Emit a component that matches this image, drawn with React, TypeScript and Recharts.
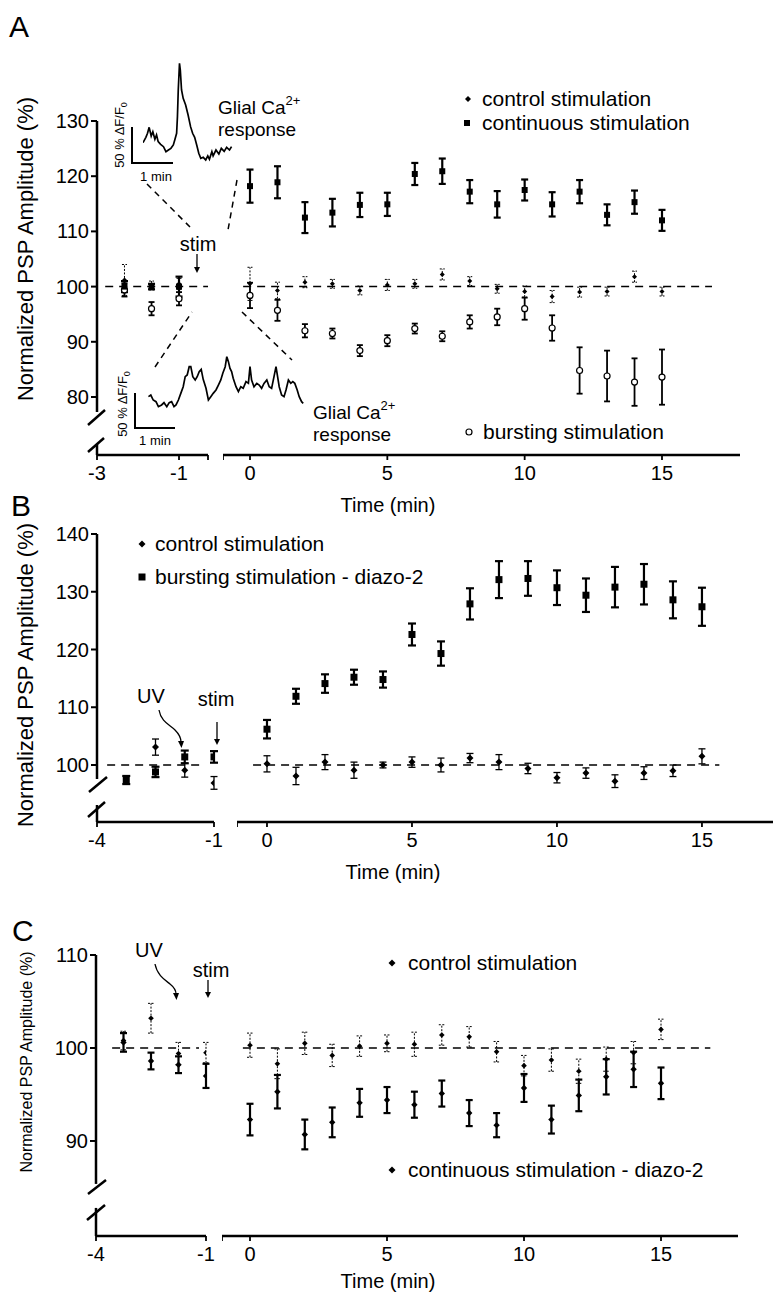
import {
  ScatterChart,
  Scatter,
  XAxis,
  YAxis,
  ErrorBar,
  ReferenceLine,
  LineChart,
  Line,
} from 'recharts'

const FONT = '"Liberation Sans", Arial, Helvetica, sans-serif'

// ---- shared time points (min) ----
const POST_T = [0, 1, 2, 3, 4, 5, 6, 7, 8, 9, 10, 11, 12, 13, 14, 15]
const POST_TICKS = [0, 5, 10, 15]

// ---- panel A ----
const A_Y_TICKS = [80, 90, 100, 110, 120, 130]
const A_PRE_T = [-2.33, -1.67, -1]
const A_PRE_TICKS = [-3, -1]
const A_CTRL_PRE = [101.2, 100.2, 100.5]
const A_CTRL_PRE_SEM = [2.8, 0.8, 1.0]
const A_CONT_PRE = [100, 100, 100]
const A_CONT_PRE_SEM = [1.0, 0.5, 1.8]
const A_BURST_PRE = [99.4, 96, 97.8]
const A_BURST_PRE_SEM = [1.2, 1.2, 1.2]
const A_CTRL = [100.5, 99.3, 100.8, 100.5, 99.3, 100.3, 100.5, 102.2, 101, 99.6, 99.1, 98.2, 99, 99.1, 101.8, 99.1]
const A_CTRL_SEM = [3, 1.5, 1, 0.8, 0.8, 1, 0.8, 1, 0.8, 0.8, 1, 1.1, 0.9, 0.8, 1, 0.8]
const A_CONT = [118.2, 118.9, 112.5, 113.4, 114.8, 114.9, 120.4, 120.9, 117.2, 114.9, 117.5, 114.9, 117.2, 113, 115.3, 112]
const A_CONT_SEM = [3, 2.9, 2.8, 2.5, 2.2, 2.1, 2, 2.3, 2.1, 2.4, 1.9, 2.2, 2.1, 1.9, 2.1, 1.9]
const A_BURST = [98.4, 95.7, 92, 91.5, 88.4, 90.2, 92.4, 91, 93.6, 94.5, 96, 92.5, 84.8, 83.8, 82.7, 83.6]
const A_BURST_SEM = [2.3, 1.9, 1.2, 0.9, 1, 1, 0.9, 0.9, 1.2, 1.5, 2, 2.3, 4.2, 4.6, 4.3, 5]

// glial Ca2+ traces (min, % dF/F0)
const TOP_TRACE_T = [0.0, 0.07, 0.11, 0.15, 0.2, 0.24, 0.29, 0.33, 0.37, 0.43, 0.5, 0.56, 0.62, 0.68, 0.74, 0.78, 0.82, 0.84, 0.86, 0.89, 0.91, 0.94, 0.98, 1.04, 1.1, 1.16, 1.21, 1.26, 1.31, 1.36, 1.41, 1.47, 1.53, 1.58, 1.62, 1.68, 1.71, 1.78, 1.85, 1.91, 1.98, 2.04, 2.11, 2.16]
const TOP_TRACE_DF = [27.6, 35.2, 41, 49.5, 37.1, 43.3, 32.4, 38.6, 29, 25.2, 21.9, 14.8, 17.1, 19.5, 24.3, 32.4, 41, 64.8, 102.9, 141, 131.4, 102.9, 91, 81.4, 67.1, 50.5, 41, 35.2, 24.3, 12.4, 5.2, 6.7, 2.9, 8.6, 3.8, 14.8, 8.6, 17.1, 11.4, 19.5, 15.2, 21, 17.1, 21.9]
const BOT_TRACE_T = [0.01, 0.07, 0.13, 0.2, 0.26, 0.34, 0.4, 0.47, 0.53, 0.59, 0.65, 0.7, 0.76, 0.82, 0.88, 0.93, 0.98, 1.03, 1.07, 1.12, 1.18, 1.23, 1.28, 1.33, 1.38, 1.45, 1.51, 1.57, 1.63, 1.7, 1.76, 1.82, 1.87, 1.93, 1.97, 2.01, 2.05, 2.09, 2.13, 2.2, 2.26, 2.32, 2.38, 2.45, 2.51, 2.55, 2.59, 2.65, 2.72, 2.78, 2.84, 2.9, 2.97, 3.03, 3.09, 3.15, 3.2, 3.24, 3.28, 3.34, 3.4, 3.45, 3.51, 3.57, 3.62, 3.67, 3.73, 3.78, 3.84, 3.88]
const BOT_TRACE_DF = [44.8, 47.1, 40, 37.6, 30.5, 32.9, 36.2, 30.5, 36.2, 37.6, 30.5, 32.9, 40, 49.5, 59, 73.3, 75.7, 87.6, 87.6, 73.3, 68.6, 73.3, 80.5, 83.8, 69.5, 56.7, 40, 44.8, 49.5, 54.3, 61.4, 68.6, 78.1, 87.6, 101.9, 94.8, 85.2, 80.5, 71, 59, 51.9, 59, 56.7, 66.2, 63.8, 87.6, 68.6, 59, 63.8, 61.4, 56.7, 63.8, 68.6, 59, 56.7, 73.3, 87.6, 73.3, 59, 47.1, 44.8, 54.3, 68.6, 63.8, 66.2, 63.8, 54.3, 44.8, 37.6, 35.2]

// ---- panel B ----
const B_Y_TICKS = [100, 110, 120, 130, 140]
const BC_PRE_TICKS = [-4, -1]
const B_CTRL_PRE_T = [-2.5, -1.75, -1]
const B_CTRL_PRE = [103.1, 99.1, 96.9]
const B_CTRL_PRE_SEM = [1.4, 1.2, 1.1]
const B_BURST_PRE_T = [-3.25, -2.5, -1.75, -1]
const B_BURST_PRE = [97.4, 98.8, 101.4, 101.4]
const B_BURST_PRE_SEM = [0.7, 0.9, 1.1, 1.0]
const B_CTRL = [100.2, 98.1, 100.5, 99.1, 100, 100.5, 100, 101.2, 100.5, 99.4, 97.8, 98.6, 97.2, 98.6, 99, 101.5]
const B_CTRL_SEM = [1.4, 1.5, 1.3, 1.4, 0.5, 0.9, 1.2, 0.8, 1.3, 0.9, 0.9, 0.9, 1.1, 1.1, 1, 1.3]
const B_BURST = [106.2, 111.9, 114.1, 115.2, 114.8, 122.6, 119.3, 127.9, 132.1, 132.3, 130.7, 129.4, 130.8, 131.3, 128.6, 127.4]
const B_BURST_SEM = [1.6, 1.3, 1.6, 1.3, 1.4, 1.9, 2.1, 2.7, 3.2, 3, 3, 2.9, 3.5, 3.5, 3.2, 3.3]

// ---- panel C ----
const C_Y_TICKS = [90, 100, 110]
const C_PRE_T = [-3.25, -2.5, -1.75, -1]
const C_CTRL_PRE = [100.8, 103.2, 99.4, 99.5]
const C_CTRL_PRE_SEM = [1, 1.6, 1.2, 1.1]
const C_CONT_PRE = [100.6, 98.6, 98.2, 97]
const C_CONT_PRE_SEM = [1, 0.9, 0.9, 1.3]
const C_CTRL = [100.3, 98.3, 100.5, 99.2, 100.2, 100.5, 100.4, 101.4, 101.2, 99.6, 98.1, 98.7, 97.5, 98.8, 99.5, 102]
const C_CTRL_SEM = [1.3, 1.6, 1.2, 1.2, 1.1, 0.9, 1.3, 1.1, 1.1, 1.1, 1.1, 1.2, 1.3, 1.3, 1.2, 1.1]
const C_CONT = [92.3, 95.3, 90.7, 92, 94.1, 94.4, 93.9, 95.1, 93, 91.7, 95.7, 92.3, 94.9, 96.9, 97.7, 96.2]
const C_CONT_SEM = [1.7, 1.8, 1.6, 1.6, 1.5, 1.4, 1.4, 1.4, 1.4, 1.3, 1.5, 1.5, 1.7, 1.9, 1.9, 1.7]

type Pt = { t: number; v: number; e: number }
const zip = (t: number[], v: number[], e: number[]): Pt[] =>
  t.map((x, i) => ({ t: x, v: v[i], e: e[i] }))

const diamond = (r: number) => (p: any) => (
  <path
    d={`M${p.cx},${p.cy - r}L${p.cx + r},${p.cy}L${p.cx},${p.cy + r}L${p.cx - r},${p.cy}Z`}
    fill="#000"
  />
)
const square = (s: number) => (p: any) => (
  <rect x={p.cx - s / 2} y={p.cy - s / 2} width={s} height={s} fill="#000" />
)
const ring = (r: number) => (p: any) => (
  <circle cx={p.cx} cy={p.cy} r={r} fill="#fff" stroke="#000" strokeWidth={1.2} />
)

interface SegDef {
  left: number
  width: number
  domain: [number, number]
  ticks: number[]
  labels: number[]
  dash: [number, number]
}
interface SeriesDef {
  name: string
  pre: Pt[]
  post: Pt[]
  shape: any
  barW: number
  cap: number
  dash?: string
}
interface PanelDef {
  top: number
  height: number
  yDomain: [number, number]
  yTicks: number[]
  axisBreak: number
  axisResume: number
  pre: SegDef
  post: SegDef
  series: SeriesDef[]
}

const PANEL_A: PanelDef = {
  top: 121,
  height: 334,
  yDomain: [69.49, 130],
  yTicks: A_Y_TICKS,
  axisBreak: 77.3,
  axisResume: 71.5,
  pre: { left: 97, width: 111, domain: [-3, -0.293], ticks: [-3, -1, -0.293], labels: A_PRE_TICKS, dash: [-2.8, -0.293] },
  post: { left: 223, width: 517, domain: [-0.983, 17.84], ticks: [-0.983, ...POST_TICKS], labels: POST_TICKS, dash: [-0.25, 16.82] },
  series: [
    { name: 'burst', pre: zip(A_PRE_T, A_BURST_PRE, A_BURST_PRE_SEM), post: zip(POST_T, A_BURST, A_BURST_SEM), shape: ring(3), barW: 1.8, cap: 3 },
    { name: 'cont', pre: zip(A_PRE_T, A_CONT_PRE, A_CONT_PRE_SEM), post: zip(POST_T, A_CONT, A_CONT_SEM), shape: square(6), barW: 2.2, cap: 3.5 },
    { name: 'ctrl', pre: zip(A_PRE_T, A_CTRL_PRE, A_CTRL_PRE_SEM), post: zip(POST_T, A_CTRL, A_CTRL_SEM), shape: diamond(2.5), barW: 1, cap: 2.5, dash: '2 1.5' },
  ],
}

const PANEL_B: PanelDef = {
  top: 534,
  height: 288,
  yDomain: [90.13, 140],
  yTicks: B_Y_TICKS,
  axisBreak: 97.58,
  axisResume: 93.07,
  pre: { left: 97, width: 117, domain: [-4, -1], ticks: BC_PRE_TICKS, labels: BC_PRE_TICKS, dash: [-3.74, -1.31] },
  post: { left: 237, width: 536, domain: [-1.034, 17.45], ticks: [-1.034, ...POST_TICKS], labels: POST_TICKS, dash: [-0.48, 15.6] },
  series: [
    { name: 'burst', pre: zip(B_BURST_PRE_T, B_BURST_PRE, B_BURST_PRE_SEM), post: zip(POST_T, B_BURST, B_BURST_SEM), shape: square(7), barW: 2.2, cap: 4 },
    { name: 'ctrl', pre: zip(B_CTRL_PRE_T, B_CTRL_PRE, B_CTRL_PRE_SEM), post: zip(POST_T, B_CTRL, B_CTRL_SEM), shape: diamond(3.5), barW: 1.3, cap: 3.5 },
  ],
}

const PANEL_C: PanelDef = {
  top: 955,
  height: 281,
  yDomain: [79.78, 110],
  yTicks: C_Y_TICKS,
  axisBreak: 85.38,
  axisResume: 82.8,
  pre: { left: 96, width: 110, domain: [-4, -1], ticks: BC_PRE_TICKS, labels: BC_PRE_TICKS, dash: [-3.56, -1.19] },
  post: { left: 222, width: 516, domain: [-1.022, 17.81], ticks: [-1.022, ...POST_TICKS], labels: POST_TICKS, dash: [-0.26, 16.8] },
  series: [
    { name: 'cont', pre: zip(C_PRE_T, C_CONT_PRE, C_CONT_PRE_SEM), post: zip(POST_T, C_CONT, C_CONT_SEM), shape: diamond(3.2), barW: 2.2, cap: 3.5 },
    { name: 'ctrl', pre: zip(C_PRE_T, C_CTRL_PRE, C_CTRL_PRE_SEM), post: zip(POST_T, C_CTRL, C_CTRL_SEM), shape: diamond(2.8), barW: 1, cap: 3, dash: '2 1.5' },
  ],
}

const tickStyle = { fontSize: 20, fill: '#000', fontFamily: FONT }

function Segment({ p, seg, isPre }: { p: PanelDef; seg: SegDef; isPre: boolean }) {
  const yw = isPre ? 60 : 0
  const x0 = seg.domain[0]
  return (
    <div style={{ position: 'absolute', left: seg.left - yw, top: p.top - 10 }}>
      <ScatterChart
        width={yw + seg.width + 12}
        height={p.height + 50}
        margin={{ top: 10, right: 12, bottom: 0, left: 0 }}
      >
        <XAxis
          type="number"
          dataKey="t"
          domain={seg.domain}
          ticks={seg.ticks}
          interval={0}
          allowDataOverflow
          height={40}
          tickSize={5}
          tickMargin={6}
          axisLine={{ stroke: '#000', strokeWidth: 2.5 }}
          tickLine={{ stroke: '#000', strokeWidth: 1.8 }}
          tick={tickStyle}
          tickFormatter={(v: number) => (seg.labels.includes(v) ? String(v) : '')}
        />
        <YAxis
          type="number"
          dataKey="v"
          domain={p.yDomain}
          allowDataOverflow
          hide={!isPre}
          width={yw}
          ticks={p.yTicks}
          interval={0}
          axisLine={false}
          tickSize={6}
          tickMargin={2}
          tickLine={{ stroke: '#000', strokeWidth: 2 }}
          tick={tickStyle}
        />
        <ReferenceLine
          segment={[{ x: seg.dash[0], y: 100 }, { x: seg.dash[1], y: 100 }]}
          stroke="#000"
          strokeWidth={1.5}
          strokeDasharray="8 6"
          ifOverflow="visible"
        />
        {isPre && (
          <ReferenceLine
            segment={[{ x: x0, y: p.yDomain[1] }, { x: x0, y: p.axisBreak }]}
            stroke="#000"
            strokeWidth={2.5}
            ifOverflow="visible"
          />
        )}
        {isPre && (
          <ReferenceLine
            segment={[{ x: x0, y: p.axisResume }, { x: x0, y: p.yDomain[0] }]}
            stroke="#000"
            strokeWidth={2.5}
            ifOverflow="visible"
          />
        )}
        {p.series.map((s) => (
          <Scatter
            key={s.name}
            data={isPre ? s.pre : s.post}
            shape={s.shape}
            isAnimationActive={false}
          >
            <ErrorBar
              dataKey="e"
              direction="y"
              width={s.cap}
              stroke="#000"
              strokeWidth={s.barW}
              strokeDasharray={s.dash}
            />
          </Scatter>
        ))}
      </ScatterChart>
    </div>
  )
}

function Panel({ p }: { p: PanelDef }) {
  return (
    <>
      <Segment p={p} seg={p.pre} isPre />
      <Segment p={p} seg={p.post} isPre={false} />
    </>
  )
}

function Trace({ t, df, left, top, width, height, xMax, yMax }: {
  t: number[]; df: number[]; left: number; top: number; width: number; height: number; xMax: number; yMax: number
}) {
  const data = t.map((x, i) => ({ t: x, df: df[i] }))
  return (
    <div style={{ position: 'absolute', left, top }}>
      <LineChart width={width} height={height} data={data} margin={{ top: 0, right: 0, bottom: 0, left: 0 }}>
        <XAxis type="number" dataKey="t" domain={[0, xMax]} hide />
        <YAxis type="number" domain={[0, yMax]} hide />
        <Line dataKey="df" stroke="#000" strokeWidth={1.7} dot={false} isAnimationActive={false} />
      </LineChart>
    </div>
  )
}

function Arrow({ x, y1, y2 }: { x: number; y1: number; y2: number }) {
  return (
    <g>
      <line x1={x} y1={y1} x2={x} y2={y2 - 4} stroke="#000" strokeWidth={1.3} />
      <polygon points={`${x - 3},${y2 - 6} ${x + 3},${y2 - 6} ${x},${y2}`} fill="#000" />
    </g>
  )
}

function Annotations() {
  const t = { fontFamily: FONT, fontSize: 20, fill: '#000' }
  const lg = { fontFamily: FONT, fontSize: 21, fill: '#000' }
  const small = { fontFamily: FONT, fontSize: 13, fill: '#000' }
  const dash = { stroke: '#000', strokeWidth: 1.5, strokeDasharray: '6 5' }
  const axis = { stroke: '#000', strokeWidth: 2.5 }
  const yTitle = 'Normalized PSP Amplitude (%)'
  return (
    <svg width={776} height={1292} style={{ position: 'absolute', left: 0, top: 0, pointerEvents: 'none' }}>
      {/* panel letters */}
      <text x={9} y={37} fontFamily={FONT} fontSize={30}>A</text>
      <text x={11} y={516} fontFamily={FONT} fontSize={30}>B</text>
      <text x={12} y={941} fontFamily={FONT} fontSize={30}>C</text>

      {/* axis titles */}
      <text transform="translate(33,249) rotate(-90)" textAnchor="middle" {...t} fontSize={22}>{yTitle}</text>
      <text transform="translate(33,675) rotate(-90)" textAnchor="middle" {...t} fontSize={22}>{yTitle}</text>
      <text transform="translate(32,1062) rotate(-90)" textAnchor="middle" {...t} fontSize={16}>{yTitle}</text>
      <text x={388} y={512} textAnchor="middle" {...t}>Time (min)</text>
      <text x={393} y={879} textAnchor="middle" {...t}>Time (min)</text>
      <text x={388} y={1288} textAnchor="middle" {...t}>Time (min)</text>

      {/* axis breaks */}
      <line x1={105} y1={410} x2={88} y2={425} {...axis} />
      <line x1={104} y1={438} x2={88} y2={452} {...axis} />
      <line x1={107} y1={777} x2={89} y2={792} {...axis} />
      <line x1={105} y1={802} x2={88} y2={817} {...axis} />
      <line x1={106} y1={1180} x2={88} y2={1194} {...axis} />
      <line x1={105} y1={1205} x2={87} y2={1220} {...axis} />

      {/* panel A legends */}
      <path d="M468,96L471,99L468,102L465,99Z" fill="#000" />
      <text x={482} y={106} {...lg}>control stimulation</text>
      <rect x={464} y={120} width={6} height={6} fill="#000" />
      <text x={482} y={130} {...lg}>continuous stimulation</text>
      <circle cx={469} cy={432} r={3} fill="#fff" stroke="#000" strokeWidth={1.2} />
      <text x={483} y={439} {...lg}>bursting stimulation</text>

      {/* panel A insets */}
      <text x={218} y={114} {...t} fontSize={19}>
        Glial Ca<tspan dy={-9} fontSize={13}>2+</tspan>
      </text>
      <text x={218} y={136} {...t} fontSize={19}>response</text>
      <line x1={132} y1={127} x2={132} y2={163} stroke="#000" strokeWidth={2} />
      <line x1={131} y1={163} x2={173} y2={163} stroke="#000" strokeWidth={2} />
      <text transform="translate(124,135) rotate(-90)" textAnchor="middle" {...small}>
        50 % ΔF/F<tspan fontSize={9} dy={3}>0</tspan>
      </text>
      <text x={156} y={181} textAnchor="middle" {...small}>1 min</text>
      <line x1={147} y1={184} x2={190} y2={227} {...dash} />
      <line x1={237} y1={180} x2={228} y2={230} {...dash} />

      <text x={198} y={251} textAnchor="middle" {...t}>stim</text>
      <Arrow x={197} y1={254} y2={273} />

      <line x1={155} y1={367} x2={192} y2={312} {...dash} />
      <line x1={242} y1={312} x2={292} y2={360} {...dash} />
      <line x1={135} y1={393} x2={135} y2={428} stroke="#000" strokeWidth={2} />
      <line x1={134} y1={428} x2={175} y2={428} stroke="#000" strokeWidth={2} />
      <text transform="translate(127,404) rotate(-90)" textAnchor="middle" {...small}>
        50 % ΔF/F<tspan fontSize={9} dy={3}>0</tspan>
      </text>
      <text x={155} y={445} textAnchor="middle" {...small}>1 min</text>
      <text x={313} y={419} {...t} fontSize={19}>
        Glial Ca<tspan dy={-9} fontSize={13}>2+</tspan>
      </text>
      <text x={313} y={441} {...t} fontSize={19}>response</text>

      {/* panel B */}
      <path d="M142,540.5L145.5,544L142,547.5L138.5,544Z" fill="#000" />
      <text x={155} y={551} {...lg}>control stimulation</text>
      <rect x={138.5} y={573.5} width={7} height={7} fill="#000" />
      <text x={155} y={584} {...lg}>bursting stimulation - diazo-2</text>
      <text x={151} y={703} textAnchor="middle" {...t}>UV</text>
      <path d="M159,710 C161,722 170,725 175,730 C180,735 181,739 181,742" fill="none" stroke="#000" strokeWidth={1.3} />
      <polygon points="178,741 184,741 181.5,748" fill="#000" />
      <text x={216} y={706} textAnchor="middle" {...t}>stim</text>
      <Arrow x={217} y1={722} y2={745} />

      {/* panel C */}
      <path d="M392,959.5L395.5,963L392,966.5L388.5,963Z" fill="#000" />
      <text x={408} y={970} {...lg}>control stimulation</text>
      <path d="M392,1166.5L395.5,1170L392,1173.5L388.5,1170Z" fill="#000" />
      <text x={408} y={1177} {...lg}>continuous stimulation - diazo-2</text>
      <text x={149} y={957} textAnchor="middle" {...t}>UV</text>
      <path d="M155,964 C157,975 165,980 170,984 C175,988 176,992 176,994" fill="none" stroke="#000" strokeWidth={1.3} />
      <polygon points="173,993 179,993 176.5,1000" fill="#000" />
      <text x={211} y={977} textAnchor="middle" {...t}>stim</text>
      <Arrow x={208} y1={980} y2={998} />
    </svg>
  )
}

export default function App() {
  return (
    <div
      style={{
        position: 'absolute',
        left: 0,
        top: 0,
        width: 776,
        height: 1292,
        overflow: 'hidden',
        background: '#fff',
        fontFamily: FONT,
      }}
    >
      <Panel p={PANEL_A} />
      <Panel p={PANEL_B} />
      <Panel p={PANEL_C} />
      <Trace t={TOP_TRACE_T} df={TOP_TRACE_DF} left={143} top={57} width={90} height={105} xMax={90 / 41} yMax={150} />
      <Trace t={BOT_TRACE_T} df={BOT_TRACE_DF} left={148} top={351} width={160} height={77} xMax={4} yMax={110} />
      <Annotations />
    </div>
  )
}
